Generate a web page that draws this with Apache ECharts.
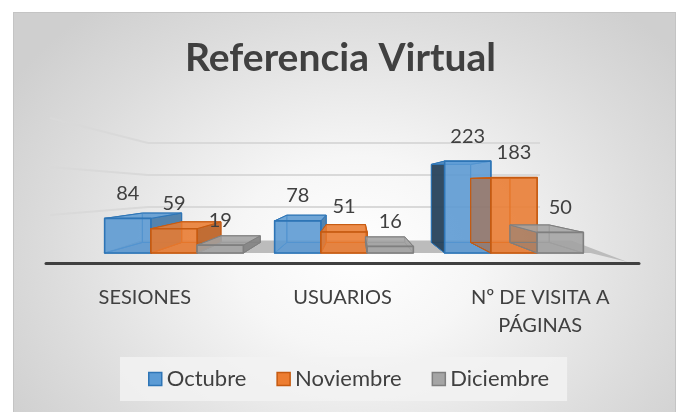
<!DOCTYPE html>
<html>
<head>
<meta charset="utf-8">
<script src="https://cdn.jsdelivr.net/npm/echarts@6/dist/echarts.min.js"></script>
<style>
	body { margin: 0; background: #ffffff; }
	#bg {
		position: absolute; left: 13px; top: 12px; width: 661px; height: 400px;
		border: 1px solid #c4c4c4; border-bottom: none;
		background: radial-gradient(ellipse 62% 80% at 52% 60%, #ffffff 0%, #f6f6f6 30%, #dcdcdc 75%, #cfcfcf 100%);
	}
	#main { position: absolute; left: 0; top: 0; width: 681px; height: 412px; }
</style>
</head>
<body>
<div id="bg"></div>
<div id="main"></div>
<script>
	// datos
	const categories = ['SESIONES', 'USUARIOS', 'Nº DE VISITA A\nPÁGINAS']
	const months = ['Octubre', 'Noviembre', 'Diciembre']
	const octubre = [84, 78, 223]
	const noviembre = [59, 51, 183]
	const diciembre = [19, 16, 50]
	const gridTicks = [0, 100, 200, 300]

	const font = 'Lato'
	const seriesValues = [octubre, noviembre, diciembre]
	const palette = [
		{ rgb: [91, 155, 213], stroke: '#2e75b6' },
		{ rgb: [237, 125, 49], stroke: '#c55a11' },
		{ rgb: [165, 165, 165], stroke: '#7f7f7f' }
	]
	const rgba = (c, k, a) => 'rgba(' + c.map(v => Math.round(v * k)).join(',') + ',' + a + ')'
	const hex = c => '#' + c.map(v => v.toString(16).padStart(2, '0')).join('')

	const S = 0.85 // profundidad (perspectiva)
	const vanish = api => [api.coord([1, 0])[0] + 12, api.coord([0, 170])[1]]

	// caja 3d tipo Excel
	const makeBox = (si) => (params, api) => {
		const ci = api.value(0), v = api.value(1)
		const top = api.coord([ci, v]), base = api.coord([ci, 0])
		const band = api.size([1, 0])[0]
		const w = band * 0.272
		const x0 = top[0] - 1.5 * w + si * w, x1 = x0 + w
		const y0 = top[1], y1 = base[1]
		const [vx, vy] = vanish(api)
		const bk = p => [vx + (p[0] - vx) * S, vy + (p[1] - vy) * S]
		const f = [[x0, y0], [x1, y0], [x1, y1], [x0, y1]]
		const b = f.map(bk)
		const c = palette[si].rgb, st = palette[si].stroke
		const poly = (pts, fill, lw) => ({
			type: 'polygon', shape: { points: pts },
			style: { fill: fill, stroke: st, lineWidth: lw, lineJoin: 'round' }
		})
		// solo la primera caja enseña su cara izquierda
		const leftVis = x0 > vx && si === 0
		const rightVis = x1 < vx
		return {
			type: 'group',
			children: [
				poly(b, rgba(c, 0.8, 0.35), 1),
				poly([f[3], b[3], b[2], f[2]], rgba(c, 0.8, 0.3), 1),
				poly([f[0], b[0], b[3], f[3]], leftVis ? rgba(c, 0.42, 0.92) : rgba(c, 0.75, 0.3), 1),
				poly([f[1], b[1], b[2], f[2]], rgba(c, 0.8, rightVis ? 0.9 : 0.3), 1),
				poly([f[0], f[1], b[1], b[0]], rgba(c, 1, 0.8), 1),
				poly(f, rgba(c, 1, 0.82), 1.6),
				{
					type: 'text',
					style: {
						text: String(v), x: (x0 + x1) / 2, y: y0 - 25,
						align: 'center', verticalAlign: 'middle',
						fill: '#404040', fontSize: 20, fontFamily: font
					}
				}
			]
		}
	}

	// suelo
	const renderFloor = (params, api) => {
		const c0 = api.coord([0, 0])
		const band = api.size([1, 0])[0]
		const [vx, vy] = vanish(api)
		const bk = p => [vx + (p[0] - vx) * S, vy + (p[1] - vy) * S]
		const fl = [c0[0] - 0.42 * band, c0[1]]
		const fr = [c0[0] + 2.45 * band, c0[1]]
		const bl = bk(fl), br = bk(fr)
		return {
			type: 'polygon',
			shape: { points: [fl, [bl[0], bl[1] - 2], [br[0] + 16, br[1] - 2], [fr[0] + 37, fr[1] + 9], fr] },
			style: { fill: '#bcbcbc' }
		}
	}

	const myChart = echarts.init(document.getElementById('main'))

	const option = {
		backgroundColor: 'transparent',
		animation: false,
		title: {
			text: 'Referencia Virtual',
			left: 'center',
			top: 34,
			textStyle: { fontFamily: font, fontSize: 39, fontWeight: 'bold', color: '#404040' }
		},
		legend: {
			data: months.map((m, i) => ({
				name: m,
				itemStyle: { color: hex(palette[i].rgb), borderColor: palette[i].stroke, borderWidth: 1.5 }
			})),
			left: 120,
			top: 357,
			padding: [11, 18, 11, 28],
			backgroundColor: 'rgba(242,242,242,0.85)',
			icon: 'rect',
			itemWidth: 13,
			itemHeight: 13,
			itemGap: 30,
			textStyle: { fontFamily: font, fontSize: 22, color: '#404040' }
		},
		graphic: [
			// pared lateral
			{ type: 'polyline', shape: { points: [[50, 118], [148, 143]] }, style: { stroke: '#d9d9d9', lineWidth: 2 }, z: -1 },
			{ type: 'polyline', shape: { points: [[50, 167], [148, 175]] }, style: { stroke: '#d9d9d9', lineWidth: 2 }, z: -1 },
			{ type: 'polyline', shape: { points: [[50, 215], [148, 207]] }, style: { stroke: '#d9d9d9', lineWidth: 2 }, z: -1 }
		],
		grid: [
			{ left: 89, right: 82, top: 150, bottom: 159 },
			{ left: 46, right: 42, top: 200, bottom: 149 },
			{ left: 148, right: 141, top: 143, bottom: 173 }
		],
		xAxis: [
			{ type: 'category', gridIndex: 0, data: categories, show: false },
			{
				type: 'category', gridIndex: 1, data: categories,
				axisLine: { lineStyle: { color: '#404040', width: 3 } },
				axisTick: { show: false },
				axisLabel: { margin: 21, fontFamily: font, fontSize: 20, color: '#404040', lineHeight: 28 }
			},
			{ type: 'category', gridIndex: 2, data: categories, show: false }
		],
		yAxis: [
			{ type: 'value', gridIndex: 0, min: 0, max: 250, show: false },
			{ type: 'value', gridIndex: 1, show: false },
			{
				type: 'value', gridIndex: 2, min: gridTicks[0], max: gridTicks[gridTicks.length - 1], interval: 100,
				axisLine: { show: false }, axisTick: { show: false }, axisLabel: { show: false },
				splitLine: { show: true, showMinLine: false, lineStyle: { color: '#d9d9d9', width: 2 } }
			}
		],
		series: [
			{
				type: 'custom', name: 'suelo', xAxisIndex: 0, yAxisIndex: 0, z: 1, clip: false,
				silent: true, renderItem: renderFloor, data: [[0]]
			}
		].concat(months.map((m, si) => ({
			type: 'custom',
			name: m,
			xAxisIndex: 0,
			yAxisIndex: 0,
			z: 2 + si,
			clip: false,
			itemStyle: { color: hex(palette[si].rgb) },
			renderItem: makeBox(si),
			encode: { x: 0, y: 1 },
			data: seriesValues[si].map((v, ci) => [ci, v])
		})))
	}

	myChart.setOption(option)
</script>
</body>
</html>
